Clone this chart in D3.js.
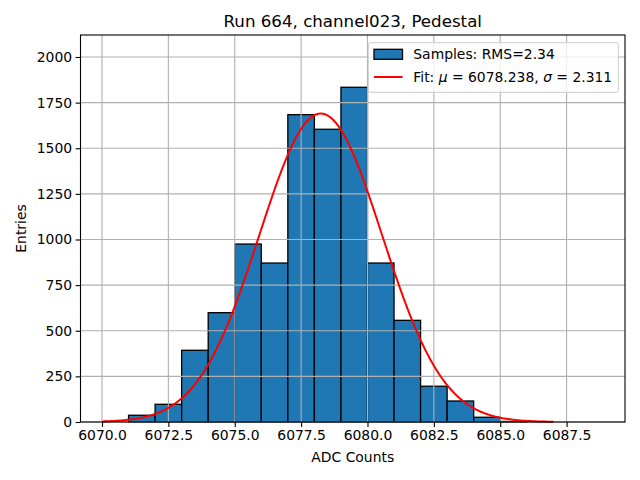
<!DOCTYPE html>
<html><head><meta charset="utf-8">
<script src="https://cdn.jsdelivr.net/npm/d3@7"></script>
<style>body{margin:0;background:#fff;} text{font-family:"DejaVu Sans",sans-serif;}</style>
</head><body><svg id="c" width="640" height="480"></svg>
<script>
const binStarts = [6071,6072,6073,6074,6075,6076,6077,6078,6079,6080,6081,6082,6083,6084,6085];
const binCounts = [37,97,393,599,975,871,1684,1604,1834,871,557,196,115,26,3];
const binWidth = 1;
const fitMu = 6078.238, fitSigma = 2.311, fitAmp = 1690;
const fitRange = [6070, 6087];
const xTicks = [6070,6072.5,6075,6077.5,6080,6082.5,6085,6087.5];
const yTicks = [0,250,500,750,1000,1250,1500,1750,2000];

const svg = d3.select("#c");
const L=80.5, R=625, T=35, B=422;
const x = d3.scaleLinear().domain([6069.19,6089.70]).range([L,R]);
const y = d3.scaleLinear().domain([0,2120.5]).range([B,T]);

svg.append("rect").attr("width",640).attr("height",480).attr("fill","#fff");

// bars
svg.append("g").selectAll("rect").data(binStarts.map((s,i)=>({s,c:binCounts[i]}))).join("rect")
  .attr("x",d=>x(d.s)).attr("width",d=>x(d.s+binWidth)-x(d.s))
  .attr("y",d=>y(d.c)).attr("height",d=>y(0)-y(d.c))
  .attr("fill","#1f77b4").attr("stroke","#000").attr("stroke-width",1.3);

// grid (on top of bars)
const g = svg.append("g").attr("stroke","#b0b0b0").attr("stroke-width",1.1);
xTicks.forEach(t=>g.append("line").attr("x1",x(t)).attr("x2",x(t)).attr("y1",T).attr("y2",B));
yTicks.forEach(t=>g.append("line").attr("x1",L).attr("x2",R).attr("y1",y(t)).attr("y2",y(t)));

// fit curve
const pts = d3.range(0,501).map(i=>{const xv=fitRange[0]+(fitRange[1]-fitRange[0])*i/500;
  return [xv, fitAmp*Math.exp(-0.5*((xv-fitMu)/fitSigma)**2)];});
svg.append("path").datum(pts).attr("fill","none").attr("stroke","red").attr("stroke-width",2)
  .attr("d",d3.line().x(d=>x(d[0])).y(d=>y(d[1])));

// axes
const xa = svg.append("g").attr("transform",`translate(0,${B})`)
  .call(d3.axisBottom(x).tickValues(xTicks).tickFormat(d3.format(".1f")).tickSize(4.9).tickPadding(3.5));
const ya = svg.append("g").attr("transform",`translate(${L},0)`)
  .call(d3.axisLeft(y).tickValues(yTicks).tickFormat(d3.format("d")).tickSize(4.9).tickPadding(3.5));
[xa,ya].forEach(a=>{a.select(".domain").remove();a.selectAll("text").attr("font-size","13.9px").attr("fill","#000").style("font-family","DejaVu Sans");
  a.selectAll("line").attr("stroke","#000").attr("stroke-width",1.1);});
svg.append("rect").attr("x",L).attr("y",T).attr("width",R-L).attr("height",B-T)
  .attr("fill","none").attr("stroke","#000").attr("stroke-width",1.1);

// labels
svg.append("text").attr("x",(L+R)/2).attr("y",27).attr("text-anchor","middle").attr("font-size","16.67px").text("Run 664, channel023, Pedestal");
svg.append("text").attr("x",(L+R)/2).attr("y",462).attr("text-anchor","middle").attr("font-size","13.9px").text("ADC Counts");
svg.append("text").attr("transform","translate(26,228.5) rotate(-90)").attr("text-anchor","middle").attr("font-size","13.9px").text("Entries");

// legend
const lg = svg.append("g");
lg.append("rect").attr("x",368.3).attr("y",42.7).attr("width",250).attr("height",49.6).attr("rx",2)
  .attr("fill","#fff").attr("fill-opacity",0.8).attr("stroke","#cccccc").attr("stroke-width",1);
lg.append("rect").attr("x",374).attr("y",49.3).attr("width",28.5).attr("height",10)
  .attr("fill","#1f77b4").attr("stroke","#000").attr("stroke-width",1.3);
lg.append("text").attr("x",413.3).attr("y",59).attr("font-size","13.9px").text("Samples: RMS=2.34");
lg.append("line").attr("x1",374).attr("x2",402.5).attr("y1",77).attr("y2",77).attr("stroke","red").attr("stroke-width",2);
const t2 = lg.append("text").attr("x",413.3).attr("y",82).attr("font-size","13.9px");
t2.append("tspan").text("Fit: ");
t2.append("tspan").attr("font-style","italic").text("μ");
t2.append("tspan").text(" = 6078.238, ");
t2.append("tspan").attr("font-style","italic").text("σ");
t2.append("tspan").text(" = 2.311");
</script></body></html>
